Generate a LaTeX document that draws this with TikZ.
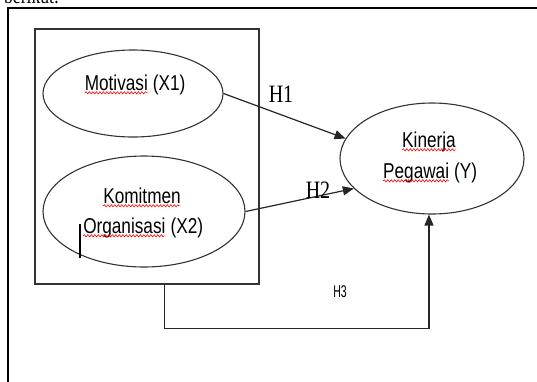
\documentclass[tikz,border=0pt]{standalone}
\usepackage{fontspec}
\usetikzlibrary{arrows.meta,decorations.pathmorphing,shapes.geometric}
\newfontfamily\sansN[FakeStretch=0.8]{Liberation Sans}
\newfontfamily\serifN[FakeStretch=0.8]{Liberation Serif}
\newfontfamily\sansNN[FakeStretch=0.62]{Liberation Sans}
\newcommand\wv[1]{\tikz[baseline=(w.base)]{\node[inner sep=0pt,outer sep=0pt,anchor=base](w){#1};\draw[red,line width=0.6pt,decorate,decoration={snake,amplitude=1.1pt,segment length=3.5pt}]([yshift=-2.8pt]w.base west) -- ([yshift=-2.8pt]w.base east);}}
\tikzset{
  ell/.style={draw=black!80,line width=1.1pt,ellipse,inner sep=0pt},
  lbl/.style={inner sep=0pt,anchor=base,font=\sansN\fontsize{21.5}{30}\selectfont},
  hlbl/.style={inner sep=0pt,anchor=base,font=\serifN\fontsize{25}{30}\selectfont},
  hlblsans/.style={inner sep=0pt,anchor=base,font=\sansNN\fontsize{17}{20}\selectfont},
  arr/.style={draw=black!85,line width=1.2pt,-{Triangle[length=11pt,width=9pt]}},
  boxline/.style={draw=black!80,line width=1.2pt}
}
\begin{document}
\begin{tikzpicture}[x=1pt,y=-1pt]
\useasboundingbox[fill=white] (0,0) rectangle (537,381);
% partial text at the top
\node[inner sep=0pt,anchor=base west,font=\serifN\fontsize{22}{26}\selectfont] (toptext) at (4,3) {berikut:};
% outer frame
\draw[line width=2pt] (8,385) -- (8,8) -- (540,8);
% inner box
\node[boxline,rectangle,minimum width=224pt,minimum height=255pt,inner sep=0pt] (box) at (147,156.5) {};
% ellipses
\node[ell,minimum width=180pt,minimum height=87pt] (e1) at (133,93.5) {};
\node[ell,minimum width=202pt,minimum height=111pt] (e2) at (144,211.5) {};
\node[ell,minimum width=184pt,minimum height=111pt] (e3) at (432,158.5) {};
% texts
\node[lbl] (t1) at (135,90) {\wv{Motivasi} (X1)};
\node[lbl] (t2a) at (142,203) {\wv{Komitmen}};
\node[lbl] (t2b) at (143,233) {\wv{Organisasi} (X2)};
\node[lbl] (t3a) at (429,147) {\wv{Kinerja}};
\node[lbl] (t3b) at (430,178) {\wv{Pegawai} (Y)};
% cursor mark
\draw[line width=1.5pt] (80,224) -- (80,258);
% connectors
\draw[arr] (e1.east) -- (e3.167);
\draw[arr] (e2.east) -- (e3.201);
\draw[arr] (box.south west) ++(130,0) -- ++(0,44) -| ([xshift=-3pt]e3.south);
% labels
\node[hlbl] (h1) at (281,102) {H1};
\node[hlbl] (h2) at (318,198) {H2};
\node[hlblsans] (h3) at (340,297) {H3};
\end{tikzpicture}
\end{document}
